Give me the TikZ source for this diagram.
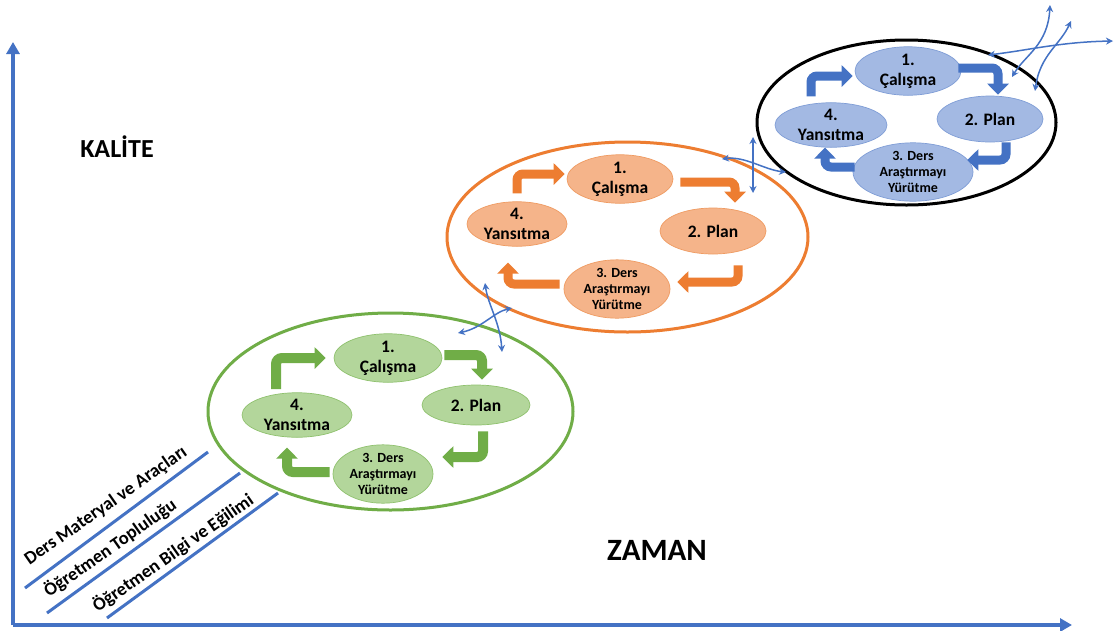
\documentclass[tikz,border=0pt]{standalone}
\usepackage{fontspec}
\setmainfont{Carlito}
\usetikzlibrary{shapes.geometric,arrows.meta,calc}
\definecolor{axblue}{HTML}{4472C4}
\definecolor{gline}{HTML}{70AD47}
\definecolor{gfill}{HTML}{B3D69B}
\definecolor{gedge}{HTML}{8FC16E}
\definecolor{oline}{HTML}{ED7D31}
\definecolor{ofill}{HTML}{F5B48A}
\definecolor{oedge}{HTML}{EF9B62}
\definecolor{bfill}{HTML}{A3B9E3}
\definecolor{bedge}{HTML}{7F9DD6}
\tikzset{
  cyc/.style={ellipse, draw, line width=3pt, inner sep=0pt},
  stepnode/.style={ellipse, inner sep=0pt, line width=0.7pt, align=center,
     font=\bfseries\fontsize{17.5}{20}\selectfont},
  smallstep/.style={stepnode, font=\bfseries\fontsize{14}{16}\selectfont},
  blk/.style={line width=10pt, rounded corners=6pt, -{Triangle[width=21pt,length=11pt]}},
  thinc/.style={line width=1.5pt, draw=axblue, {Stealth[length=7pt,width=7pt]}-{Stealth[length=7pt,width=7pt]}},
  axis/.style={line width=3.2pt, draw=axblue, -{Triangle[width=13pt,length=12pt]}},
  diag/.style={line width=3pt, draw=axblue},
  dlabel/.style={rotate=35, font=\bfseries\fontsize{18.5}{20}\selectfont, inner sep=0pt},
  big/.style={font=\bfseries\fontsize{26}{30}\selectfont}
}
\begin{document}
\begin{tikzpicture}[x=1pt,y=-1pt]
\useasboundingbox[fill=white] (0,0) rectangle (1114,630);

% axes
\coordinate (O) at (13,625);
\coordinate (ytop) at (13,42);
\coordinate (xend) at (1072,625);
\draw[axis] (O) -- (ytop);
\draw[axis] (O) -- (xend);
\node[big] (kalite) at (117,147) {KALİTE};
\node[big, font=\bfseries\fontsize{31}{34}\selectfont] (zaman) at (657,550) {ZAMAN};

% diagonal lines and labels
\draw[diag] (25,588) -- (208,452);
\draw[diag] (47,613) -- (240,473);
\draw[diag] (107,618) -- (278,493);
\node[dlabel] (l1) at (106,506) {Ders Materyal ve Araçları};
\node[dlabel] (l2) at (110,548) {Öğretmen Topluluğu};
\node[dlabel] (l3) at (173,553) {Öğretmen Bilgi ve Eğilimi};

% big ellipses
\node[cyc, draw=gline, minimum width=365pt, minimum height=197pt] (green) at (390.5,411.5) {};
\node[cyc, draw=oline, minimum width=361pt, minimum height=190pt] (orange) at (627.5,237) {};
\node[cyc, draw=black, minimum width=299pt, minimum height=165pt] (black) at (906.5,122.5) {};

% green cycle
\node[stepnode, fill=gfill, draw=gedge, minimum width=108pt, minimum height=38pt] (g1) at (388,358) {1.\\Çalışma};
\node[stepnode, fill=gfill, draw=gedge, minimum width=108pt, minimum height=40pt] (g2) at (476,405) {2. Plan};
\node[smallstep, fill=gfill, draw=gedge, minimum width=100pt, minimum height=52pt] (g3) at (383,474) {3. Ders\\Araştırmayı\\Yürütme};
\node[stepnode, fill=gfill, draw=gedge, minimum width=110pt, minimum height=44pt] (g4) at (297,415) {4.\\Yansıtma};
\draw[blk, draw=gline] ($(g4.center)+(-21,-26)$) |- ($(g1.west)+(-8,0)$);
\draw[blk, draw=gline] ($(g1.east)+(2,-3)$) -| ($(g2.north)+(6,-5)$);
\draw[blk, draw=gline] ($(g2.south)+(7,6)$) |- ($(g3.east)+(9,-17)$);
\draw[blk, draw=gline] ($(g3.west)+(-3,-2)$) -| ($(g4.south)+(-10,10)$);

% orange cycle
\node[stepnode, fill=ofill, draw=oedge, minimum width=106pt, minimum height=44pt] (o1) at (620,179) {1.\\Çalışma};
\node[stepnode, fill=ofill, draw=oedge, minimum width=106pt, minimum height=46pt] (o2) at (713,231) {2. Plan};
\node[smallstep, fill=ofill, draw=oedge, minimum width=106pt, minimum height=44pt] (o3) at (617,289) {3. Ders\\Araştırmayı\\Yürütme};
\node[stepnode, fill=ofill, draw=oedge, minimum width=100pt, minimum height=44pt] (o4) at (517,224) {4.\\Yansıtma};
\draw[blk, line width=9pt, draw=oline] ($(o4.north)+(0,-8)$) |- ($(o1.west)+(-2,-5)$);
\draw[blk, line width=9pt, draw=oline] ($(o1.east)+(7,3)$) -| ($(o2.north)+(22,-5)$);
\draw[blk, line width=9pt, draw=oline] ($(o2.south)+(25,11)$) |- ($(o3.east)+(7,-7)$);
\draw[blk, line width=9pt, draw=oline] ($(o3.west)+(-4,-5)$) -| ($(o4.south)+(-9,16)$);

% blue cycle
\node[stepnode, fill=bfill, draw=bedge, minimum width=106pt, minimum height=42pt] (b1) at (908,71) {1.\\Çalışma};
\node[stepnode, fill=bfill, draw=bedge, minimum width=106pt, minimum height=46pt] (b2) at (990,119) {2. Plan};
\node[smallstep, fill=bfill, draw=bedge, minimum width=120pt, minimum height=46pt] (b3) at (913,172) {3. Ders\\Araştırmayı\\Yürütme};
\node[stepnode, fill=bfill, draw=bedge, minimum width=112pt, minimum height=44pt] (b4) at (831,125) {4.\\Yansıtma};
\draw[blk, line width=9pt, draw=axblue] ($(b4.north)+(-20,-6)$) |- ($(b1.west)+(-2,5)$);
\draw[blk, line width=9pt, draw=axblue] ($(b1.east)+(-3,-3)$) -| ($(b2.north)+(8,-1)$);
\draw[blk, line width=9pt, draw=axblue] ($(b2.south)+(16,0)$) |- ($(b3.east)+(-6,-12)$);
\draw[blk, line width=9pt, draw=axblue] ($(b3.west)+(2,-5)$) -| ($(b4.south)+(-6,0)$);

% thin connectors green-orange
\coordinate (ga1) at (458,333);
\coordinate (oa1) at (512,308);
\coordinate (oa2) at (485,283);
\coordinate (ga2) at (502,352);
\draw[thinc] (ga1) .. controls (482,328) and (494,312) .. (oa1);
\draw[thinc] (oa2) .. controls (488,305) and (500,322) .. (ga2);

% thin connectors orange-black
\coordinate (ob1) at (753,137);
\coordinate (ob2) at (753,193);
\coordinate (ob3) at (722,159);
\coordinate (ob4) at (786,172);
\draw[thinc] (ob1) -- (ob2);
\draw[thinc] (ob3) .. controls (745,156) and (765,170) .. (ob4);

% top right connectors
\coordinate (t1) at (988,55);
\coordinate (t2) at (1113,41);
\coordinate (t3) at (1012,77);
\coordinate (t4) at (1050,5);
\coordinate (t5) at (1035,91);
\coordinate (t6) at (1071,21);
\draw[thinc] (t1) .. controls (1030,50) and (1060,42) .. (t2);
\draw[thinc] (t3) .. controls (1025,55) and (1048,45) .. (t4);
\draw[thinc] (t5) .. controls (1040,55) and (1060,45) .. (t6);
\end{tikzpicture}
\end{document}
